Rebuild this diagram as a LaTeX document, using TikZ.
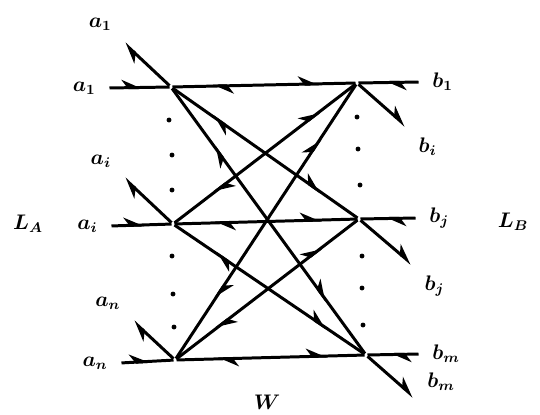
\documentclass[tikz,border=0pt]{standalone}
\usepackage{amsmath}
\usepackage{tikz}
\usetikzlibrary{arrows.meta,decorations.markings}
\tikzstyle{junc}=[inner sep=0pt,minimum size=0pt]
\tikzstyle{dotblk}=[circle,fill=black,inner sep=0pt,minimum size=2.8pt]
\tikzstyle{wire}=[line width=1.7pt]
\tikzstyle{inwave}=[postaction={decorate,decoration={markings,%
mark=at position 0.55 with {\arrow{Stealth[left,length=10pt,width=9pt]}}}}]
\tikzstyle{twoway}=[postaction={decorate,decoration={markings,%
mark=at position 0.22 with {\arrowreversed{Stealth[right,length=10pt,width=9pt]}},%
mark=at position 0.8 with {\arrow{Stealth[left,length=10pt,width=9pt]}}}}]
\tikzstyle{outwave}=[-{Stealth[left,length=10pt,width=9pt]}]

\begin{document}
\begin{tikzpicture}[wire,font=\large\boldmath,label distance=2pt]
\useasboundingbox (0,0) rectangle (10.8,-8.28);
% junctions on the left and right
\node[junc] (A1) at (3.42,-1.74) {};
\node[junc] (Ai) at (3.46,-4.48) {};
\node[junc] (An) at (3.50,-7.20) {};
\node[junc] (B1) at (7.14,-1.66) {};
\node[junc] (Bj) at (7.18,-4.38) {};
\node[junc] (Bm) at (7.32,-7.10) {};
% free ends of the lines
\node[junc,label=left:{$a_1$}] (a1) at (2.16,-1.76) {};
\node[junc,label=left:{$a_i$}] (ai) at (2.20,-4.52) {};
\node[junc,label=left:{$a_n$}] (an) at (2.40,-7.26) {};
\node[junc,label=right:{$b_1$}] (b1) at (8.40,-1.64) {};
\node[junc,label=right:{$b_j$}] (bj) at (8.34,-4.36) {};
\node[junc,label=right:{$b_m$}] (bm) at (8.40,-7.08) {};
% tips of the outgoing rays
\node[junc,label={135:$a_1$}] (ra1) at (2.46,-0.84) {};
\node[junc,label={155:$a_i$}] (rai) at (2.46,-3.54) {};
\node[junc,label={145:$a_n$}] (ran) at (2.64,-6.40) {};
\node[junc,label={-35:$b_i$}] (rb1) at (8.14,-2.54) {};
\node[junc,label={-35:$b_j$}] (rbj) at (8.26,-5.30) {};
\node[junc,label={5:$b_m$}] (rbm) at (8.30,-7.96) {};
% dots
\node[dotblk] (dl1) at (3.38,-2.40) {};
\node[dotblk] (dl2) at (3.44,-3.10) {};
\node[dotblk] (dl3) at (3.44,-3.80) {};
\node[dotblk] (dl4) at (3.44,-5.12) {};
\node[dotblk] (dl5) at (3.46,-5.88) {};
\node[dotblk] (dl6) at (3.48,-6.54) {};
\node[dotblk] (dr1) at (7.14,-2.34) {};
\node[dotblk] (dr2) at (7.16,-2.98) {};
\node[dotblk] (dr3) at (7.20,-3.70) {};
\node[dotblk] (dr4) at (7.24,-5.12) {};
\node[dotblk] (dr5) at (7.24,-5.76) {};
\node[dotblk] (dr6) at (7.26,-6.50) {};
\node (LA) at (0.56,-4.48) {$L_A$};
\node (LB) at (10.26,-4.44) {$L_B$};
\node (W) at (5.34,-8.04) {$W$};
\draw[inwave] (a1) -- (A1);
\draw[inwave] (ai) -- (Ai);
\draw[inwave] (an) -- (An);
\draw[inwave] (b1) -- (B1);
\draw[inwave] (bj) -- (Bj);
\draw[inwave] (bm) -- (Bm);
\draw[twoway] (A1) -- (B1);
\draw[twoway] (A1) -- (Bj);
\draw[twoway] (A1) -- (Bm);
\draw[twoway] (Ai) -- (B1);
\draw[twoway] (Ai) -- (Bj);
\draw[twoway] (Ai) -- (Bm);
\draw[twoway] (An) -- (B1);
\draw[twoway] (An) -- (Bj);
\draw[twoway] (An) -- (Bm);
\draw[outwave] (A1) -- (ra1);
\draw[outwave] (Ai) -- (rai);
\draw[outwave] (An) -- (ran);
\draw[outwave] (B1) -- (rb1);
\draw[outwave] (Bj) -- (rbj);
\draw[outwave] (Bm) -- (rbm);
\end{tikzpicture}
\end{document}
